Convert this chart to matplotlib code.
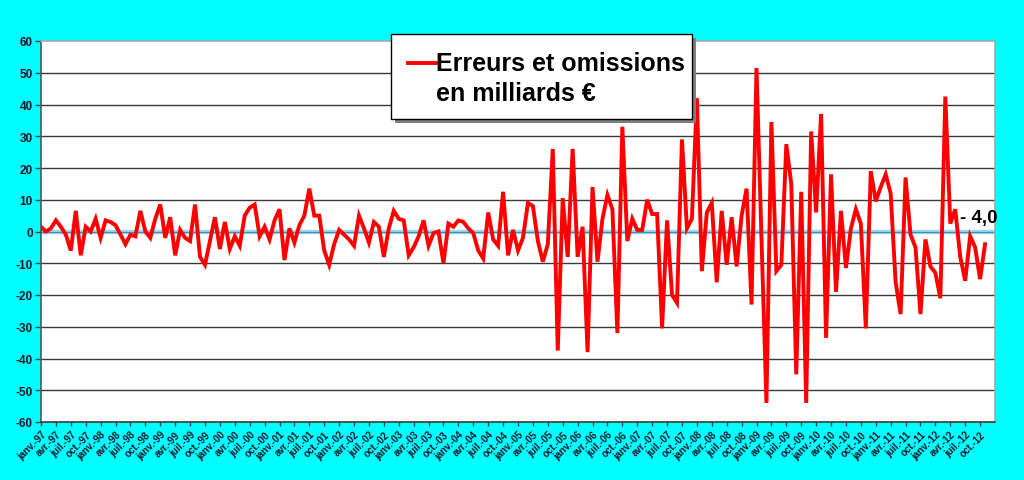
import matplotlib
matplotlib.use("Agg")
import matplotlib.pyplot as plt
from matplotlib.patches import Rectangle
from matplotlib.lines import Line2D

plt.rcParams['font.family'] = ['Liberation Sans', 'DejaVu Sans']

# Monthly values, janv.-97 onwards (milliards €)
values = [
    1.5, 0, 1, 3.5, 1.5, -1, -6, 6.5, -7.5, 1.5, 0, 4,
    -2, 3.5, 3, 2, -1, -4, -1, -1.5, 6.5, 0, -2, 4,
    8.5, -2, 4.5, -7.5, 0.5, -2, -3, 8.5, -8, -10.5, -3, 4.5,
    -5.5, 3, -5.5, -1.5, -4.5, 5, 7.5, 8.5, -1.5, 1.5, -2.5, 3.5,
    7, -9, 1, -3.5, 2, 5, 13.5, 5, 5, -6, -10.5, -4,
    0.5, -1, -2.5, -4.5, 5, 1, -3.5, 3, 1.5, -8, 1, 6.5,
    4, 3.5, -7.5, -5, -1.5, 3.5, -4.5, -0.5, 0, -10, 2.5, 1.5,
    3.5, 3, 1, -0.5, -6, -8.5, 6, -2.5, -4.5, 12.5, -7.5, 0.5,
    -6, -2, 9, 8, -3, -9.5, -4, 26, -37.5, 10.5, -8, 26,
    -8, 1.5, -38, 14, -9.5, 4, 11.5, 7, -32, 33, -3, 4,
    0.5, 0.5, 10, 5.5, 5.5, -30.5, 3.5, -20, -22.5, 29, 1, 4,
    42, -12.5, 6, 9, -16, 6.5, -10.5, 4.5, -11, 5, 13.5, -23,
    51.5, -2, -54, 34.5, -12.5, -10.5, 27.5, 15, -45, 12.5, -54, 31.5,
    6, 37, -33.5, 18, -19, 6.5, -11.5, 1, 7, 2.5, -30.5, 19,
    9.5, 14, 18, 12, -16, -26, 17, -1, -5, -26, -2.5, -11,
    -13, -21, 42.5, 2.5, 7, -8, -15.5, -1.5, -5, -15, -4,
]
quarter_months = ['janv.', 'avr.', 'juil.', 'oct.']
years = ['97', '98', '99', '00', '01', '02', '03', '04', '05', '06',
         '07', '08', '09', '10', '11', '12']
tick_labels = [f"{m}-{y}" for y in years for m in quarter_months]
y_ticks = list(range(-60, 61, 10))
legend_lines = ["Erreurs et omissions", "en milliards €"]
last_label = "- 4,0"

fig = plt.figure(figsize=(10.24, 4.81), dpi=100, facecolor='#00FFFF')
ax = fig.add_axes([41/1024, 1-423/481, (995-41)/1024, (423-42)/481])
ax.set_facecolor('white')

x = list(range(len(values)))
ax.set_xlim(0, 192)
ax.set_ylim(-60, 60)

for yt in y_ticks:
    if yt not in (-60, 60, 0):
        ax.axhline(yt, color='#3a3a3a', lw=1.0, zorder=1)
ax.axhline(0, color='#9fd8ee', lw=3.2, zorder=2)
ax.axhline(0, color='#3f8fb8', lw=0.9, zorder=2)

ax.plot(x, values, color='#FF0000', lw=2.8, solid_joinstyle='miter', zorder=3)

ax.set_yticks(y_ticks)
ax.set_yticklabels([str(v) for v in y_ticks], fontsize=8.5, fontweight='bold', color='#1a1a2a')
ax.set_xticks(list(range(0, 3*len(tick_labels), 3)))
ax.set_xticklabels(tick_labels, rotation=45, ha='right', rotation_mode='anchor',
                   fontsize=7, fontweight='bold', color='#1a1a2a')
ax.tick_params(axis='y', length=4, width=1, color='#404040', pad=2)
ax.tick_params(axis='x', length=3, width=1, color='#404040', pad=2)

for s in ['top', 'right']:
    ax.spines[s].set_color('#a8a8a8')
    ax.spines[s].set_linewidth(1.2)
ax.spines['left'].set_color('#4a5a60')
ax.spines['left'].set_linewidth(1.2)
ax.spines['bottom'].set_color('#3a3a3a')
ax.spines['bottom'].set_linewidth(1.2)

ax.text(185.0, 4.3, last_label, fontsize=13.5, fontweight='bold', color='black',
        va='center', ha='left', zorder=5)

# Legend box (figure coords)
W, H = 1024, 481
bx0, by0, bx1, by1 = 391, 35, 692, 120
fig.patches.append(Rectangle((bx0/W + 4/W, 1-by1/H - 4/H), (bx1-bx0)/W, (by1-by0)/H,
                             transform=fig.transFigure, facecolor='#808080',
                             edgecolor='none', zorder=10))
fig.patches.append(Rectangle((bx0/W, 1-by1/H), (bx1-bx0)/W, (by1-by0)/H,
                             transform=fig.transFigure, facecolor='white',
                             edgecolor='black', lw=1.0, zorder=11))
fig.lines.append(Line2D([408/W, 436/W], [1-64/H, 1-64/H], transform=fig.transFigure,
                        color='#FF0000', lw=2.8, zorder=12))
fig.text(436/W, 1-64/H, legend_lines[0], fontsize=18, fontweight='bold',
         va='center', ha='left', zorder=12)
fig.text(436/W, 1-94/H, legend_lines[1], fontsize=18, fontweight='bold',
         va='center', ha='left', zorder=12)

fig.savefig('out.png', dpi=100, facecolor=fig.get_facecolor())
